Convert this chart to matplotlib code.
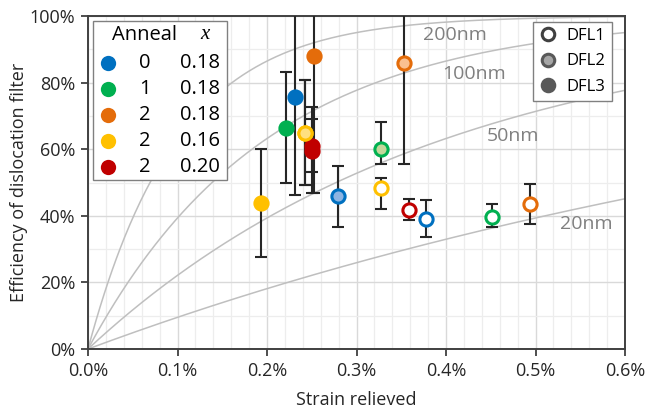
import matplotlib
matplotlib.use("Agg")
import matplotlib.pyplot as plt
import numpy as np
from matplotlib.patches import Rectangle
from matplotlib.lines import Line2D
from matplotlib.ticker import PercentFormatter, MultipleLocator

plt.rcParams["font.family"] = ["Open Sans", "DejaVu Sans"]

# colores por recocido / composicion
colores = {"a0_18": "#0070C0", "a1_18": "#00B050", "a2_18": "#E46C0A",
           "a2_16": "#FFC000", "a2_20": "#C00000"}
rellenos_dfl2 = {"a0_18": "#8DB4E2", "a1_18": "#C4D79B", "a2_18": "#FAC090",
                 "a2_16": "#FFE07F", "a2_20": "#E6A0A0"}

# datos (strain en %, eficiencia en %)
grupo = ["a0_18", "a1_18", "a2_18", "a2_16", "a2_16", "a2_20", "a2_20",
         "a0_18", "a1_18", "a2_18", "a2_16",
         "a2_16", "a2_20", "a0_18", "a1_18", "a2_18"]
dfl = [3, 3, 3, 3, 3, 3, 3,
       2, 2, 2, 2,
       1, 1, 1, 1, 1]
strain = [0.231, 0.221, 0.252, 0.243, 0.193, 0.250, 0.250,
          0.279, 0.327, 0.353, 0.243,
          0.327, 0.359, 0.378, 0.451, 0.494]
eficiencia = [75.8, 66.3, 88.0, 65.0, 43.9, 61.0, 59.5,
              45.9, 60.1, 86.0, 65.0,
              48.3, 41.7, 39.0, 39.7, 43.5]
err_arriba = [115.0, 83.1, 115.0, 80.8, 60.0, 72.8, 69.1,
              55.0, 68.1, 115.0, 80.8,
              51.5, 44.9, 44.7, 43.4, 49.5]
err_abajo = [46.2, 49.9, 46.9, 49.2, 27.7, 46.9, 53.2,
             36.5, 55.7, 55.6, 49.2,
             42.0, 38.7, 33.5, 36.7, 37.5]

# curvas del modelo: espesor de capa (nm)
espesores = [200, 100, 50, 20]
etiquetas_curva = ["200nm", "100nm", "50nm", "20nm"]
pos_etiquetas = [(0.374, 94.3), (0.3955, 82.6), (0.4458, 64.0), (0.527, 37.5)]
constante_modelo = 0.2  # nm

leyenda_anneal = ["0", "1", "2", "2", "2"]
leyenda_x = ["0.18", "0.18", "0.18", "0.16", "0.20"]
leyenda_grupo = ["a0_18", "a1_18", "a2_18", "a2_16", "a2_20"]

fig = plt.figure(figsize=(6.46, 4.13), dpi=100)
ax = fig.add_axes([88 / 646, 1 - 349 / 413, 537 / 646, 333 / 413])

x = np.array(strain) / 100
y = np.array(eficiencia) / 100
lo = y - np.array(err_abajo) / 100
hi = np.array(err_arriba) / 100 - y

# curvas teoricas
s = np.linspace(0, 0.006, 400)
for d in espesores:
    ax.plot(s, 1 - np.exp(-s * d / constante_modelo), color="#BFBFBF", lw=1.1, zorder=2)
for txt, (px, py) in zip(etiquetas_curva, pos_etiquetas):
    ax.text(px / 100, py / 100, txt, color="#808080", fontsize=14, ha="left", va="center", zorder=2)

ax.errorbar(x, y, yerr=[lo, hi], fmt="none", ecolor="#262626", elinewidth=1.5,
            capsize=4, capthick=1.5, zorder=3)

for xi, yi, g, d in zip(x, y, grupo, dfl):
    if d == 3:
        fc = colores[g]
    elif d == 2:
        fc = rellenos_dfl2[g]
    else:
        fc = "white"
    ax.plot(xi, yi, "o", ms=9.5, mew=2.2, mec=colores[g], mfc=fc, zorder=4)

ax.set_xlim(0, 0.006)
ax.set_ylim(0, 1)
ax.xaxis.set_major_locator(MultipleLocator(0.001))
ax.xaxis.set_minor_locator(MultipleLocator(0.0002))
ax.yaxis.set_major_locator(MultipleLocator(0.2))
ax.yaxis.set_minor_locator(MultipleLocator(0.1))
ax.xaxis.set_major_formatter(PercentFormatter(xmax=1, decimals=1))
ax.yaxis.set_major_formatter(PercentFormatter(xmax=1, decimals=0))
ax.grid(True, which="major", color="#D9D9D9", lw=1.0, zorder=0)
ax.grid(True, which="minor", color="#EDEDED", lw=0.9, zorder=0)
ax.set_axisbelow(True)
ax.tick_params(which="major", direction="out", length=5, width=1.3, color="#404040",
               labelsize=13, pad=4, labelcolor="#262626")
ax.tick_params(which="minor", length=0)
for sp in ax.spines.values():
    sp.set_color("#404040")
    sp.set_linewidth(1.4)

ax.set_xlabel("Strain relieved", fontsize=13, color="#262626")
ax.set_ylabel("Efficiency of dislocation filter", fontsize=13, color="#262626")
ax.xaxis.set_label_coords(0.5, -0.125)
ax.yaxis.set_label_coords(-0.112, 0.5)

# leyenda de recocido / composicion
ax.add_patch(Rectangle((0.0093, 0.5075), 0.2495, 0.4775, transform=ax.transAxes,
                       facecolor="white", edgecolor="#808080", lw=1.0, zorder=5))
ax.text(0.106, 0.943, "Anneal", transform=ax.transAxes, fontsize=14.5,
        ha="center", va="center", zorder=6)
ax.text(0.218, 0.943, "x", transform=ax.transAxes, fontsize=15, style="italic",
        family="Liberation Serif", ha="center", va="center", zorder=6)
filas_y = [0.859, 0.781, 0.703, 0.625, 0.547]
for fy, a, xx, g in zip(filas_y, leyenda_anneal, leyenda_x, leyenda_grupo):
    ax.plot(0.0372, fy, "o", ms=11, mew=0, color=colores[g],
            transform=ax.transAxes, zorder=6, clip_on=False)
    ax.text(0.106, fy, a, transform=ax.transAxes, fontsize=14.5, ha="center",
            va="center", zorder=6)
    ax.text(0.2458, fy, xx, transform=ax.transAxes, fontsize=14.5, ha="right",
            va="center", zorder=6)

# leyenda DFL
handles = [Line2D([], [], ls="none", marker="o", ms=9, mew=2.2, mec="#404040", mfc="white"),
           Line2D([], [], ls="none", marker="o", ms=9, mew=2.2, mec="#595959", mfc="#A6A6A6"),
           Line2D([], [], ls="none", marker="o", ms=9, mew=2.2, mec="#595959", mfc="#595959")]
leg = ax.legend(handles, ["DFL1", "DFL2", "DFL3"], loc="upper right",
                bbox_to_anchor=(0.976, 0.983), fontsize=12, frameon=True,
                fancybox=False, edgecolor="#808080", framealpha=1,
                handlelength=1.0, handletextpad=0.6, borderpad=0.4,
                labelspacing=0.55, borderaxespad=0)
leg.get_frame().set_linewidth(1.0)
leg.set_zorder(6)

fig.savefig("out.png", dpi=100)
